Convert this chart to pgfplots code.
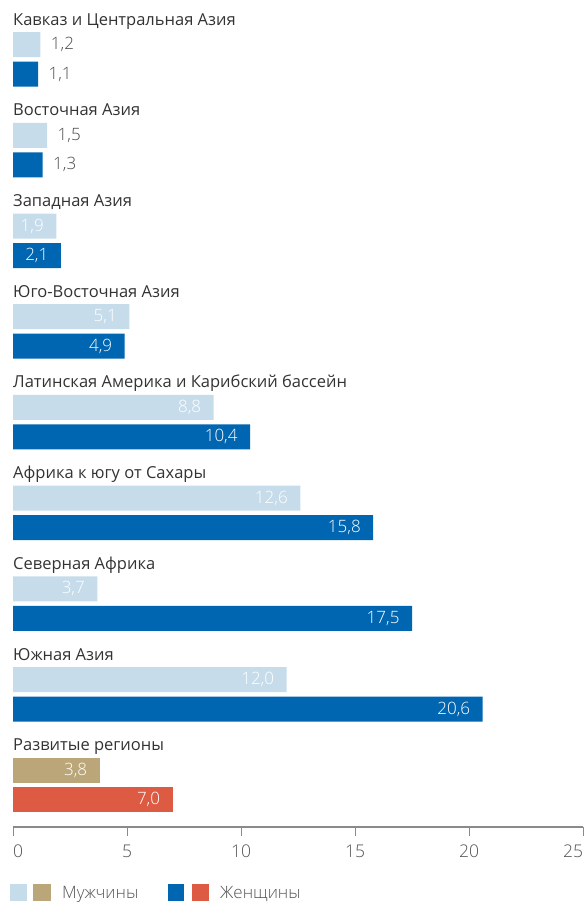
\documentclass[border=0pt]{standalone}
\usepackage{fontspec}
\setmainfont{Open Sans}
\IfFontExistsTF{Open Sans Light}
  {\newfontfamily\lightfont{Open Sans Light}}
  {\newfontfamily\lightfont{Open Sans}}
\usepackage{pgfplots}
\pgfplotsset{compat=1.18}
\definecolor{menc}{HTML}{C6DCEB}
\definecolor{womenc}{HTML}{0066B2}
\definecolor{mendev}{HTML}{BBA67A}
\definecolor{womendev}{HTML}{DE5B43}
\definecolor{labelgray}{HTML}{333333}
\definecolor{valgray}{HTML}{4A4A4A}
\definecolor{axisgray}{HTML}{8A8A8A}
\definecolor{tickgray}{HTML}{555555}
\begin{document}
\begin{tikzpicture}[font=\fontsize{16.5}{19}\selectfont]
\begin{axis}[name=ax, scale only axis, width=570pt, height=827pt,
  xmin=0, xmax=25, ymin=0, ymax=827, y dir=reverse,
  axis x line*=bottom, axis y line=none, clip=false,
  xtick={0,5,...,25}, xticklabels={\rlap{0},5,10,15,20,\llap{25}},
  tick align=outside, major tick length=9pt,
  x tick style={axisgray, line width=1pt},
  axis line style={axisgray, line width=1.3pt},
  xticklabel style={text=tickgray, inner sep=0pt, yshift=-9pt,
    font=\lightfont\fontsize{17.5}{20}\selectfont},
  every axis plot/.append style={xbar, bar width=25, bar shift=0pt, draw=none, forget plot},
  nodes near coords, point meta=x,
  every node near coord/.append style={font=\lightfont\fontsize{17}{20}\selectfont},
  legend style={at={(axis description cs:-0.00526,-0.0689)}, anchor=north west,
    draw=none, fill=none, inner sep=0pt, legend columns=2,
    nodes={inner sep=0pt, text=tickgray, font=\lightfont\fontsize{17}{20}\selectfont}},
  legend cell align=left,
  /pgf/number format/.cd, use comma, fixed, fixed zerofill, precision=1, assume math mode=true]

% Men (light), labels outside
\addplot[fill=menc, nodes near coords style={anchor=west, xshift=7pt, text=valgray}]
  coordinates {(1.2,44.6) (1.5,135.3)};
% Men (light), labels inside
\addplot[fill=menc, nodes near coords style={anchor=east, xshift=-9pt, text=white}]
  coordinates {(1.9,226.0) (5.1,316.7) (8.8,407.4) (12.6,498.1) (3.7,588.8) (12.0,679.5)};
% Women (dark), labels outside
\addplot[fill=womenc, nodes near coords style={anchor=west, xshift=7pt, text=valgray}]
  coordinates {(1.1,74.1) (1.3,164.8)};
% Women (dark), labels inside
\addplot[fill=womenc, nodes near coords style={anchor=east, xshift=-9pt, text=white}]
  coordinates {(2.1,255.5) (4.9,346.2) (10.4,436.9) (15.8,527.6) (17.5,618.3) (20.6,709.0)};
% Developed regions
\addplot[fill=mendev, nodes near coords style={anchor=east, xshift=-9pt, text=white}]
  coordinates {(3.8,770.2)};
\addplot[fill=womendev, nodes near coords style={anchor=east, xshift=-9pt, text=white}]
  coordinates {(7.0,799.7)};

\begin{scope}[every node/.style={anchor=base west, inner sep=0pt, text=labelgray}]
\node at (axis cs:0,25.1) {Кавказ и Центральная Азия};
\node at (axis cs:0,115.8) {Восточная Азия};
\node at (axis cs:0,206.5) {Западная Азия};
\node at (axis cs:0,297.2) {Юго-Восточная Азия};
\node at (axis cs:0,387.9) {Латинская Америка и Карибский бассейн};
\node at (axis cs:0,478.6) {Африка к югу от Сахары};
\node at (axis cs:0,569.3) {Северная Африка};
\node at (axis cs:0,660.0) {Южная Азия};
\node at (axis cs:0,750.7) {Развитые регионы};
\end{scope}

\addlegendimage{legend image code/.code={
  \fill[menc] (0pt,-8.5pt) rectangle (17pt,8.5pt);
  \fill[mendev] (23pt,-8.5pt) rectangle (41pt,8.5pt);
  \path (52pt,0pt);}}
\addlegendentry{\makebox[106pt][l]{Мужчины}}
\addlegendimage{legend image code/.code={
  \fill[womenc] (0pt,-8.5pt) rectangle (16pt,8.5pt);
  \fill[womendev] (24pt,-8.5pt) rectangle (41pt,8.5pt);
  \path (52pt,0pt);}}
\addlegendentry{Женщины}
\end{axis}
\pgfresetboundingbox
\path ([shift={(-13pt,-76pt)}]ax.south west) rectangle ([shift={(5pt,0pt)}]ax.north east);
\end{tikzpicture}
\end{document}
